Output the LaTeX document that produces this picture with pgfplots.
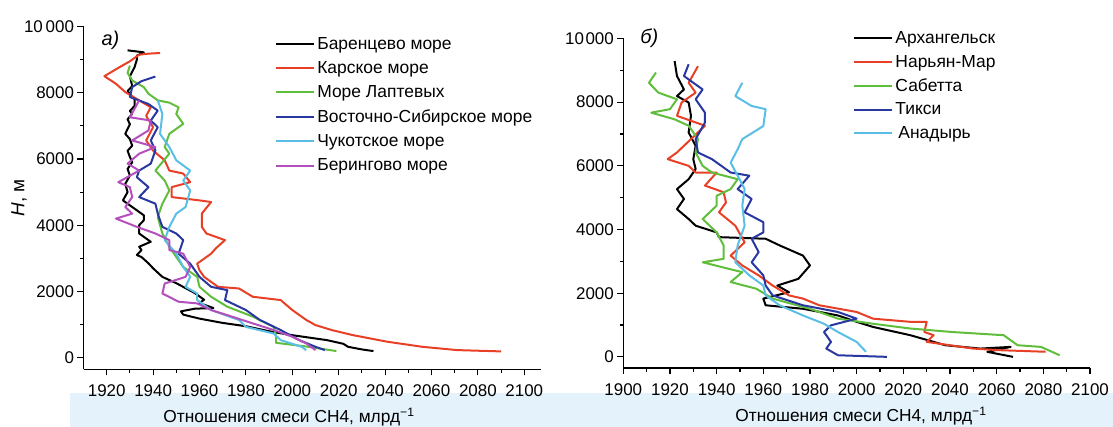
\documentclass[border=0pt]{standalone}
\usepackage{fontspec}
\setmainfont{Liberation Sans}
\usepackage{pgfplots}
\pgfplotsset{compat=1.18}

\definecolor{cred}{RGB}{232,64,38}
\definecolor{cgreen}{RGB}{96,190,60}
\definecolor{cblue}{RGB}{40,56,160}
\definecolor{ccyan}{RGB}{90,190,230}
\definecolor{cmag}{RGB}{180,80,190}
\definecolor{band}{RGB}{228,242,251}

\pgfplotsset{
  prof/.style={
    scale only axis,
    axis x line*=bottom, axis y line*=left,
    axis line style={-, line width=1.2bp},
    tick align=outside,
    major tick length=6bp, minor tick length=3.5bp,
    every tick/.style={black, line width=1.1bp},
    minor x tick num=1, minor y tick num=1,
    scaled x ticks=false, scaled y ticks=false,
    ymin=-350, ymax=10000,
    ytick={0,2000,4000,6000,8000,10000},
    font=\fontsize{17}{20}\selectfont,
    xticklabel style={yshift=-6bp},
    every axis plot post/.append style={line width=2bp, line join=round, mark=none},
    legend style={draw=none, fill=none, inner sep=0pt,
      font=\fontsize{17.5}{20}\selectfont, anchor=north west},
    legend cell align=left,
    legend image code/.code={\draw[##1, line width=2bp] (0bp,0bp) -- (38.6bp,0bp);},
    clip=false,
  }
}

\begin{document}
\begin{tikzpicture}[x=1bp,y=1bp]
\path[use as bounding box] (0bp,0bp) rectangle (1113bp,427bp);
\fill[band] (70bp,0bp) rectangle (1113bp,34bp);

% ---------- a) seas ----------
\begin{axis}[prof,
  at={(83.5bp,57.7bp)}, anchor=south west,
  width=457bp, height=342.8bp,
  xmin=1910, xmax=2107,
  xtick={1920,1940,...,2100},
  xticklabels={1920,1940,1960,1980,2000,2020,2040,2060,2080,2100},
  yticklabels={0,2000,4000,6000,8000,10\,000},
  legend style={at={(0.418,0.975)}, row sep=6.7bp},
]
\addplot[black] coordinates {(1929,9280) (1936,9220) (1933,9120) (1933,9000) (1932,8770) (1930,8500) (1931,8200) (1929,8050) (1930,7960) (1932,7800) (1932,7600) (1930,7450) (1931,7360) (1929,7200) (1930,7050) (1928,6760) (1930,6600) (1931,6400) (1929,6250) (1930,6060) (1931,5900) (1929,5700) (1930,5500) (1928,5250) (1929,5000) (1927,4750) (1930,4600) (1932,4500) (1936,4300) (1936,4150) (1934,4000) (1934,3750) (1937,3600) (1939,3500) (1934,3350) (1935,3250) (1933,3100) (1935,3040) (1938,2850) (1940,2700) (1944,2440) (1950,2250) (1954,2100) (1958,1950) (1962,1750) (1960,1650) (1966,1500) (1958,1480) (1952,1400) (1953,1300) (1960,1180) (1970,1050) (1980,950) (1990,800) (1998,700) (2008,600) (2015,530) (2022,420) (2024,330) (2030,250) (2035,200)};
\addlegendentry{Баренцево море}
\addplot[cred] coordinates {(1943,9200) (1938,9180) (1934,9150) (1930,8950) (1925,8750) (1919,8500) (1924,8270) (1928,8020) (1934,7770) (1939,7560) (1937,7300) (1940,6960) (1937,6560) (1940,6250) (1945,5960) (1947,5650) (1953,5560) (1956,5300) (1948,5150) (1948,4850) (1960,4750) (1965,4700) (1961,4350) (1961,3950) (1963,3750) (1971,3550) (1967,3300) (1965,3140) (1959,2840) (1960,2640) (1962,2440) (1968,2140) (1977,2090) (1983,1840) (1995,1740) (2000,1440) (2006,1140) (2010,985) (2017,835) (2026,683) (2041,482) (2056,330) (2071,230) (2090,190)};
\addlegendentry{Карское море}
\addplot[cgreen] coordinates {(1930,8820) (1929,8600) (1931,8370) (1936,8170) (1938,7970) (1942,7770) (1947,7700) (1951,7560) (1950,7360) (1953,7060) (1947,6760) (1945,6360) (1947,6160) (1941,5650) (1945,5350) (1947,5050) (1944,4650) (1942,4250) (1944,3750) (1947,3350) (1950,3040) (1953,2740) (1959,2440) (1960,2140) (1965,1840) (1972,1540) (1983,1240) (1992,930) (1993,650) (1993,450) (2007,330) (2019,200)};
\addlegendentry{Море Лаптевых}
\addplot[cblue] coordinates {(1941,8490) (1935,8350) (1931,8170) (1930,7870) (1938,7660) (1942,7460) (1939,7160) (1942,6960) (1939,6560) (1941,6260) (1939,5860) (1934,5650) (1933,5450) (1938,5150) (1934,4850) (1941,4650) (1942,4350) (1944,3950) (1950,3750) (1953,3550) (1951,3140) (1956,2840) (1960,2440) (1965,2140) (1972,2040) (1971,1740) (1980,1440) (1986,1140) (1995,835) (2003,530) (2010,330) (2014,230)};
\addlegendentry{Восточно-Сибирское море}
\addplot[ccyan] coordinates {(1942,7770) (1944,7360) (1943,6760) (1947,6360) (1950,5960) (1956,5650) (1953,5350) (1956,5050) (1954,4550) (1950,4350) (1947,3950) (1945,3550) (1950,3140) (1953,2740) (1956,2440) (1954,2140) (1959,1940) (1959,1740) (1965,1440) (1977,1140) (1980,930) (1992,730) (1995,530) (2004,330) (2006,230)};
\addlegendentry{Чукотское море}
\addplot[cmag] coordinates {(1934,7770) (1930,7260) (1939,7160) (1938,6860) (1931,6560) (1941,6360) (1934,6160) (1929,5860) (1934,5650) (1925,5300) (1930,5150) (1931,4850) (1928,4550) (1931,4350) (1924,4200) (1933,3950) (1941,3750) (1947,3550) (1947,3250) (1953,3140) (1956,2740) (1954,2440) (1945,2240) (1944,1940) (1951,1690) (1959,1640) (1965,1440) (1974,1240) (1983,1035) (1992,835) (2000,633) (2006,432) (2010,230)};
\addlegendentry{Берингово море}
\node[anchor=west, font=\fontsize{20}{24}\selectfont\itshape] at (rel axis cs:0.032,0.961) {а)};
\end{axis}

% ---------- б) stations ----------
\begin{axis}[prof,
  at={(623.3bp,59bp)}, anchor=south west,
  width=466.7bp, height=329.5bp,
  xmin=1900, xmax=2100,
  xtick={1900,1920,...,2100},
  xticklabels={1900,1920,1940,1960,1980,2000,2020,2040,2060,2080,2100},
  yticklabels={0,2000,4000,6000,8000,10\kern1.5bp000},
  legend style={at={(0.4915,1.028)}, row sep=6.1bp},
]
\addplot[black] coordinates {(1922,9290) (1923,8820) (1926,8400) (1923,8190) (1928,7990) (1929,7570) (1928,7050) (1931,6630) (1930,6210) (1931,5900) (1928,5580) (1923,5270) (1926,4960) (1923,4640) (1928,4330) (1931,4120) (1940,3910) (1941,3760) (1961,3710) (1967,3500) (1977,3180) (1980,2870) (1975,2450) (1966,2240) (1971,2030) (1960,1830) (1961,1620) (1977,1510) (1992,1300) (2000,1100) (2007,940) (2023,680) (2038,365) (2053,260) (2066,313) (2056,157) (2067,0)};
\addlegendentry{Архангельск}
\addplot[cred] coordinates {(1932,9130) (1928,8610) (1931,8300) (1925,7990) (1923,7570) (1935,7260) (1929,6840) (1923,6420) (1919,6210) (1928,6000) (1931,5790) (1940,5790) (1935,5380) (1943,5170) (1944,4850) (1941,4540) (1948,4120) (1952,3600) (1946,3180) (1951,2870) (1958,2560) (1964,2240) (1971,1930) (1977,1830) (1984,1620) (2000,1410) (2007,1200) (2023,1100) (2030,1100) (2029,780) (2033,680) (2030,470) (2050,260) (2061,210) (2081,160)};
\addlegendentry{Нарьян-Мар}
\addplot[cgreen] coordinates {(1914,8930) (1911,8610) (1915,8300) (1923,8090) (1920,7780) (1912,7670) (1922,7460) (1928,7260) (1932,6840) (1931,6420) (1934,6000) (1938,5790) (1949,5580) (1946,5270) (1940,5060) (1940,4750) (1934,4330) (1940,3910) (1943,3500) (1943,3080) (1934,2970) (1951,2660) (1946,2350) (1957,2140) (1964,1830) (1980,1510) (1992,1200) (2007,1040) (2023,890) (2041,780) (2063,680) (2069,365) (2079,313) (2087,50)};
\addlegendentry{Сабетта}
\addplot[cblue] coordinates {(1928,9190) (1926,8820) (1934,8400) (1931,8090) (1935,7670) (1935,7360) (1931,6840) (1932,6420) (1938,6210) (1946,5790) (1954,5690) (1949,5270) (1955,4960) (1952,4540) (1960,4230) (1960,3910) (1955,3710) (1958,3290) (1955,2970) (1960,2560) (1961,2240) (1964,1930) (1977,1620) (1992,1410) (2000,1200) (1989,990) (1986,780) (1989,470) (1987,260) (1992,50) (2013,0)};
\addlegendentry{Тикси}
\addplot[ccyan] coordinates {(1951,8610) (1948,8190) (1955,7880) (1961,7780) (1960,7250) (1951,6840) (1949,6520) (1946,6100) (1949,5690) (1952,5270) (1951,4750) (1952,4120) (1949,3500) (1948,2970) (1954,2560) (1960,2240) (1961,1930) (1967,1620) (1977,1300) (1986,1040) (1992,780) (2000,470) (2004,160)};
\addlegendentry{\,Анадырь}
\node[anchor=west, font=\fontsize{20}{24}\selectfont\itshape] at (rel axis cs:0.029,1.0) {б)};
\end{axis}

\node[rotate=90, font=\fontsize{19}{22}\selectfont] at (19bp,229bp) {\textit{H}, м};
\node[font=\fontsize{17.4}{20}\selectfont] at (289bp,10bp) {Отношения смеси CH4, млрд\textsuperscript{−1}};
\node[font=\fontsize{17.4}{20}\selectfont] at (861bp,10.5bp) {Отношения смеси CH4, млрд\textsuperscript{−1}};
\end{tikzpicture}
\end{document}
